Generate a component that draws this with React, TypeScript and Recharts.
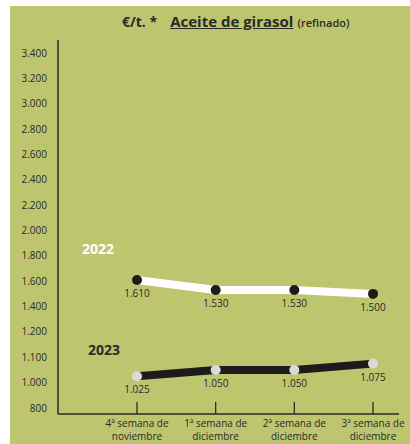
import { CartesianGrid, LabelList, Line, LineChart, XAxis, YAxis } from "recharts";

const categories = ["4ª semana de|noviembre", "1ª semana de|diciembre", "2ª semana de|diciembre", "3ª semana de|diciembre"];
const values2022 = [1610, 1530, 1530, 1500];
const values2023 = [1025, 1050, 1050, 1075];
const yTickValues = [800, 1000, 1100, 1200, 1400, 1600, 1800, 2000, 2200, 2400, 2600, 2800, 3000, 3200, 3400];

const bg = "#bec56f";
const ink = "#2a2a2a";
const font = "'Open Sans', sans-serif";

// the printed axis is not linear: every tick label is spaced evenly
function toAxis(v: number) {
  for (let i = 0; i < yTickValues.length - 1; i++) {
    const a = yTickValues[i];
    const b = yTickValues[i + 1];
    if (v >= a && v <= b) return i + (v - a) / (b - a);
  }
  return 0;
}

function fmt(v: number) {
  if (v < 1000) return String(v);
  const rest = String(v % 1000).padStart(3, "0");
  return Math.floor(v / 1000) + "." + rest;
}

const data = categories.map((c, i) => ({
  label: c,
  v2022: toAxis(values2022[i]),
  v2023: toAxis(values2023[i]),
}));

const yTicks = yTickValues.map((_, i) => i);

function XTick(props: any) {
  const { x, y, payload } = props;
  const [l1, l2] = String(payload.value).split("|");
  return (
    <g>
      <line x1={x} x2={x} y1={y - 12} y2={y} stroke={ink} strokeWidth={1.3} />
      <text x={x} y={y + 12.5} textAnchor="middle" fontSize={10} fill={ink} fontFamily={font}>
        {l1}
      </text>
      <text x={x} y={y + 25.5} textAnchor="middle" fontSize={10} fill={ink} fontFamily={font}>
        {l2}
      </text>
    </g>
  );
}

function makeLabel(raw: number[]) {
  return (props: any) => {
    const { x, y, index } = props;
    return (
      <text x={x} y={y + 17} textAnchor="middle" fontSize={10} fill={ink} fontFamily={font}>
        {fmt(raw[index])}
      </text>
    );
  };
}

export default function App() {
  return (
    <div style={{ position: "absolute", left: 0, top: 0, width: 410, height: 444, background: "#fff", overflow: "hidden" }}>
      <div style={{ position: "absolute", left: 10, top: 6, width: 400, height: 438, background: bg }} />
      <div
        style={{
          position: "absolute",
          left: 122,
          top: 11,
          whiteSpace: "nowrap",
          fontFamily: font,
          color: ink,
          lineHeight: "20px",
        }}
      >
        <span style={{ fontWeight: 700, fontSize: 14 }}>€/t. *</span>
        <span style={{ display: "inline-block", width: 13 }} />
        <span style={{ fontWeight: 700, fontSize: 15, textDecoration: "underline" }}>Aceite de girasol</span>
        <span style={{ fontWeight: 600, fontSize: 11, marginLeft: 4 }}>(refinado)</span>
      </div>
      <div style={{ position: "absolute", left: 82, top: 239, fontFamily: font, fontWeight: 700, fontSize: 14, color: "#fff" }}>
        2022
      </div>
      <div style={{ position: "absolute", left: 88, top: 340, fontFamily: font, fontWeight: 700, fontSize: 14, color: ink }}>
        2023
      </div>
      <div style={{ position: "absolute", left: 0, top: 0 }}>
        <LineChart width={410} height={444} data={data} margin={{ top: 40, right: 11, left: 0, bottom: 0 }}>
          <CartesianGrid stroke="none" />
          <XAxis
            dataKey="label"
            type="category"
            padding={{ left: 79, right: 26 }}
            axisLine={{ stroke: ink, strokeWidth: 1.5 }}
            tickLine={false}
            tickSize={0}
            tickMargin={0}
            height={30}
            interval={0}
            tick={<XTick />}
          />
          <YAxis
            type="number"
            width={58}
            domain={[-0.237, 14.513]}
            allowDataOverflow
            ticks={yTicks}
            interval={0}
            tickFormatter={(i: number) => fmt(yTickValues[i])}
            axisLine={{ stroke: ink, strokeWidth: 1.5 }}
            tickLine={false}
            tickSize={6}
            tickMargin={5}
            tick={{ fill: ink, fontSize: 10, fontFamily: font }}
          />
          <Line
            dataKey="v2022"
            stroke="#ffffff"
            strokeWidth={8}
            strokeLinecap="butt"
            dot={{ r: 5, fill: "#1c1c1c", stroke: "none" }}
            activeDot={false}
            isAnimationActive={false}
          >
            <LabelList dataKey="v2022" content={makeLabel(values2022)} />
          </Line>
          <Line
            dataKey="v2023"
            stroke="#1c1c1c"
            strokeWidth={8}
            strokeLinecap="butt"
            dot={{ r: 5, fill: "#dadada", stroke: "none" }}
            activeDot={false}
            isAnimationActive={false}
          >
            <LabelList dataKey="v2023" content={makeLabel(values2023)} />
          </Line>
        </LineChart>
      </div>
    </div>
  );
}
